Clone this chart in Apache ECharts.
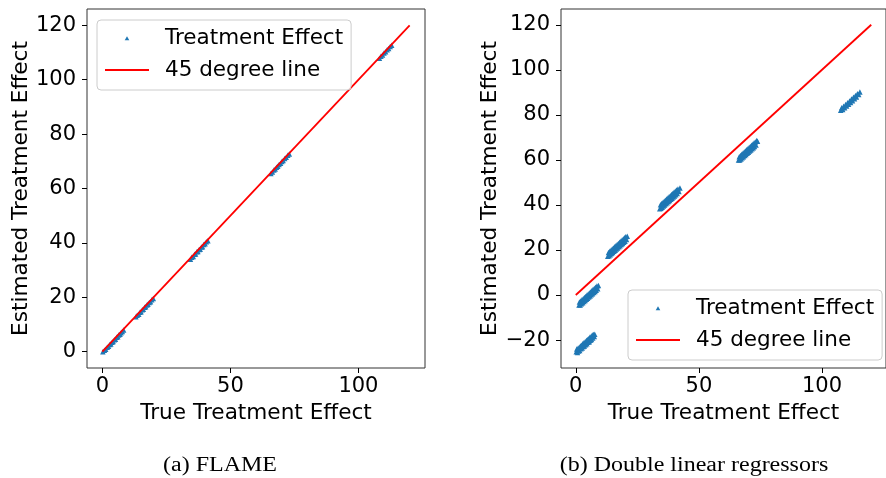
<!DOCTYPE html>
<html>
<head>
<meta charset="utf-8">
<script src="https://cdn.jsdelivr.net/npm/echarts@6/dist/echarts.min.js"></script>
<style>html,body{margin:0;padding:0;background:#fff;}#c{width:886px;height:478px;}</style>
</head>
<body>
<div id="c"></div>
<script>
// ---- data ----
const flameTrue = [0.2,0.8,1.3,1.9,2.4,2.9,3.3,3.8,4.2,4.7,5.1,5.6,6.0,6.4,6.9,7.3,7.8,8.3,
  13.1,13.6,14.2,14.7,15.1,15.6,16.0,16.5,16.9,17.4,17.8,18.3,18.8,19.3,19.9,
  34.4,34.9,35.5,36.0,36.4,36.9,37.3,37.8,38.2,38.7,39.1,39.6,40.1,40.6,41.2,
  65.8,66.4,67.0,67.5,68.0,68.5,69.0,69.6,70.1,70.6,71.2,71.8,72.4,73.0,
  108.2,108.8,109.4,110.0,110.6,111.2,111.8,112.4,113.0];
const flameEst = [0.0,0.5,0.9,1.6,2.0,2.6,2.8,3.5,3.7,4.4,4.6,5.3,5.5,6.1,6.4,7.0,7.4,8.0,
  12.8,13.4,13.8,14.5,14.7,15.4,15.6,16.3,16.5,17.2,17.4,18.1,18.4,19.1,19.6,
  34.0,34.7,35.0,35.8,35.9,36.7,36.8,37.6,37.7,38.5,38.6,39.4,39.7,40.4,40.8,
  65.5,66.1,66.8,67.2,67.8,68.2,68.8,69.3,69.9,70.3,71.0,71.5,72.2,72.7,
  107.9,108.6,109.1,109.8,110.3,111.0,111.5,112.2,112.7];

const doubleTrue = [
  0.2,0.4,0.7,0.9,1.1,1.4,1.6,1.9,2.1,2.3,2.6,2.8,3.1,3.3,3.5,3.8,4.0,4.3,4.5,4.7,5.0,5.2,5.5,5.7,5.9,6.2,6.4,6.7,6.9,7.2,7.5,7.7,
  1.3,1.5,1.8,2.0,2.3,2.5,2.8,3.0,3.3,3.5,3.8,4.0,4.3,4.5,4.8,5.0,5.3,5.5,5.8,6.0,6.3,6.5,6.8,7.0,7.3,7.5,7.8,8.0,8.3,8.6,8.9,9.2,
  13.0,13.3,13.5,13.8,14.0,14.3,14.5,14.8,15.0,15.3,15.5,15.8,16.0,16.3,16.5,16.8,17.0,17.3,17.5,17.8,18.0,18.3,18.5,18.8,19.0,19.3,19.5,19.8,20.0,20.3,20.6,20.9,
  34.1,34.4,34.6,34.9,35.1,35.4,35.6,35.9,36.1,36.4,36.6,36.9,37.1,37.4,37.6,37.9,38.1,38.4,38.6,38.9,39.1,39.4,39.6,39.9,40.1,40.4,40.6,40.9,41.2,41.5,41.9,42.3,
  66.1,66.4,66.6,66.9,67.1,67.4,67.6,67.9,68.1,68.4,68.6,68.9,69.1,69.4,69.6,69.9,70.1,70.4,70.6,70.9,71.1,71.4,71.6,71.9,72.1,72.4,72.6,72.9,73.2,73.5,73.8,
  107.6,108.0,108.4,108.8,109.2,109.6,110.0,110.4,110.8,111.2,111.6,112.0,112.4,112.8,113.2,113.6,114.0,114.4,114.9,115.4];
const doubleEst = [
  -25.2,-24.0,-25.5,-23.6,-24.9,-23.2,-24.6,-22.6,-23.9,-22.3,-23.5,-21.6,-22.9,-21.2,-22.6,-20.8,-22.1,-20.2,-21.6,-19.7,-21.0,-19.4,-20.7,-18.8,-20.1,-18.4,-19.7,-17.8,-19.1,-17.5,-18.4,-17.4,
  -4.4,-3.1,-4.4,-2.6,-3.9,-2.1,-3.4,-1.6,-2.9,-1.1,-2.4,-0.6,-1.9,-0.1,-1.4,0.4,-0.9,0.9,-0.4,1.4,0.1,1.9,0.6,2.4,1.1,2.9,1.6,3.4,2.1,4.0,2.8,4.2,
  17.2,18.9,17.4,19.4,17.9,19.9,18.4,20.4,18.9,20.9,19.4,21.4,19.9,21.9,20.4,22.4,20.9,22.9,21.4,23.4,21.9,23.9,22.4,24.4,22.9,24.9,23.4,25.4,23.9,25.9,24.7,26.1,
  38.3,40.1,38.5,40.6,39.0,41.1,39.5,41.6,40.0,42.1,40.5,42.6,41.0,43.1,41.5,43.6,42.0,44.1,42.5,44.6,43.0,45.1,43.5,45.6,44.0,46.1,44.5,46.6,45.1,47.1,46.0,47.5,
  59.9,61.4,59.9,62.0,60.4,62.5,60.9,63.0,61.4,63.5,61.9,64.0,62.4,64.5,62.9,65.0,63.4,65.5,63.9,66.0,64.4,66.5,64.9,67.0,65.4,67.5,65.9,68.0,66.6,68.6,68.3,
  82.0,83.1,82.4,83.8,83.1,84.6,83.9,85.4,84.7,86.2,85.5,87.0,86.3,87.8,87.1,88.6,87.9,89.4,89.0,90.2];

const lineX = [0, 120];
const lineY = [0, 120];

const xTicks = [0, 50, 100];
const yTicksLeft = [0, 20, 40, 60, 80, 100, 120];
const yTicksRight = [-20, 0, 20, 40, 60, 80, 100, 120];

const seriesNames = ['Treatment Effect', '45 degree line'];
const xTitle = 'True Treatment Effect';
const yTitle = 'Estimated Treatment Effect';
const captions = ['(a) FLAME', '(b) Double linear regressors'];

// ---- chart ----
const FONT = 'DejaVu Sans';
const pairs = (a, b) => a.map((v, i) => [v, b[i]]);
const fmt = v => String(v).replace('-', '\u2212');

function xAxis(gi) {
  return {
    type: 'value', gridIndex: gi, min: -6, max: 126,
    name: xTitle, nameLocation: 'middle', nameGap: 31,
    nameTextStyle: {fontFamily: FONT, fontSize: 21.6, color: '#000'},
    axisLine: {show: false, onZero: false},
    axisTick: {show: true, inside: false, length: 5, lineStyle: {color: '#000', width: 1}, customValues: xTicks},
    axisLabel: {fontFamily: FONT, fontSize: 21, color: '#000', margin: 8, customValues: xTicks, formatter: fmt},
    splitLine: {show: false}
  };
}
function yAxis(gi, mn, mx, ticks, gap) {
  return {
    type: 'value', gridIndex: gi, min: mn, max: mx,
    name: yTitle, nameLocation: 'middle', nameGap: gap,
    nameTextStyle: {fontFamily: FONT, fontSize: 21.6, color: '#000'},
    axisLine: {show: false, onZero: false},
    axisTick: {show: true, inside: false, length: 5, lineStyle: {color: '#000', width: 1}, customValues: ticks},
    axisLabel: {fontFamily: FONT, fontSize: 21, color: '#000', margin: 11, customValues: ticks, formatter: fmt},
    splitLine: {show: false}
  };
}
function legend(left, top) {
  return {
    data: [
      {name: seriesNames[0], icon: 'path://M0,0M44,0M44,6M0,6M19.7,5.3L24.3,5.3L22,1.2Z'},
      {name: seriesNames[1], icon: 'path://M0,2.1L44,2.1L44,3.9L0,3.9Z'}
    ],
    orient: 'vertical', left: left, top: top, align: 'left',
    itemWidth: 44, itemHeight: 6, itemGap: 10, symbolKeepAspect: true,
    padding: [7, 8, 9, 8],
    backgroundColor: 'rgba(255,255,255,0.8)', borderColor: '#cccccc', borderWidth: 1, borderRadius: 4,
    textStyle: {fontFamily: FONT, fontSize: 21.5, color: '#000', padding: [0, 0, 0, 11]},
    selectedMode: false
  };
}
function scatter(xi, data) {
  return {
    type: 'scatter', name: seriesNames[0], xAxisIndex: xi, yAxisIndex: xi,
    data: data, symbol: 'triangle', symbolSize: 5.5,
    itemStyle: {color: '#1f77b4', opacity: 1}
  };
}
function line(xi) {
  return {
    type: 'line', name: seriesNames[1], xAxisIndex: xi, yAxisIndex: xi,
    data: pairs(lineX, lineY), symbol: 'none', showSymbol: false,
    lineStyle: {color: '#ff0000', width: 1.8}, itemStyle: {color: '#ff0000'}
  };
}

const chart = echarts.init(document.getElementById('c'), null, {renderer: 'canvas'});
chart.setOption({
  animation: false,
  backgroundColor: '#fff',
  grid: [
    {left: 87, top: 9, width: 338, height: 359, show: true, borderColor: '#333', borderWidth: 1, backgroundColor: 'transparent'},
    {left: 561, top: 9, width: 333, height: 359, show: true, borderColor: '#333', borderWidth: 1, backgroundColor: 'transparent'}
  ],
  xAxis: [xAxis(0), xAxis(1)],
  yAxis: [yAxis(0, -6, 126, yTicksLeft, 55), yAxis(1, -32.4, 127.0, yTicksRight, 58)],
  legend: [legend(97, 20), legend(628, 290)],
  series: [
    scatter(0, pairs(flameTrue, flameEst)), line(0),
    scatter(1, pairs(doubleTrue, doubleEst)), line(1)
  ],
  graphic: [
    {type: 'text', x: 220, y: 466, scaleX: 1.2, style: {text: captions[0], align: 'center', verticalAlign: 'middle', font: '20px "Liberation Serif"', fill: '#000'}},
    {type: 'text', x: 694, y: 466, scaleX: 1.2, style: {text: captions[1], align: 'center', verticalAlign: 'middle', font: '20px "Liberation Serif"', fill: '#000'}}
  ]
});
</script>
</body>
</html>
